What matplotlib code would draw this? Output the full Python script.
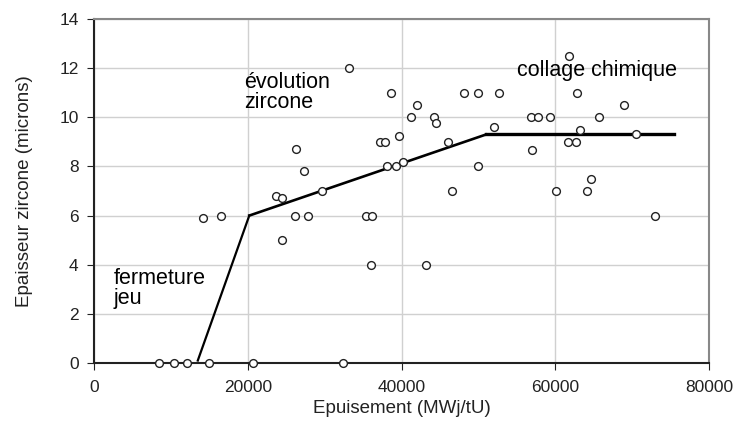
import matplotlib.pyplot as plt

plt.rcParams['font.family'] = ['Liberation Sans', 'DejaVu Sans']

# points mesurés (épuisement MWj/tU, épaisseur zircone en microns)
epuisement = [8450, 10400, 12100, 15000, 20700, 32400,
              14130, 16510, 26180, 27870, 35370, 36110,
              23620, 24450, 29690, 24450, 36020, 43210,
              33160, 38620, 42000, 41220, 39700, 37230, 37880,
              26230, 27350, 38140, 39310, 40180,
              61770, 48150, 50010, 52700, 62890, 68960,
              44250, 44470, 56790, 57740, 59340, 65670,
              51970, 63200, 70440, 46070, 61720, 62760, 57040,
              50010, 46590, 60080, 64190, 64630, 72960]
epaisseur = [0, 0, 0, 0, 0, 0,
             5.9, 6.0, 6.0, 6.0, 6.0, 6.0,
             6.8, 6.7, 7.0, 5.0, 4.0, 4.0,
             12.0, 11.0, 10.5, 10.0, 9.25, 9.0, 9.0,
             8.7, 7.8, 8.0, 8.0, 8.2,
             12.5, 11.0, 11.0, 11.0, 11.0, 10.5,
             10.0, 9.75, 10.0, 10.0, 10.0, 10.0,
             9.6, 9.5, 9.3, 9.0, 9.0, 9.0, 8.65,
             8.0, 7.0, 7.0, 7.0, 7.5, 6.0]

# courbe de tendance
modele_x = [13500, 20200, 51000, 75400]
modele_y = [0.1, 6.0, 9.3, 9.3]

fig = plt.figure(figsize=(7.53, 4.25), dpi=100)
ax = fig.add_axes([94/753, 1-363/425, (709-94)/753, (363-19)/425])

ax.grid(True, color='#d0d0d0', linewidth=1)
ax.set_axisbelow(True)

ax.plot(modele_x[:2], modele_y[:2], color='black', linewidth=1.6, zorder=2)
ax.plot(modele_x[1:3], modele_y[1:3], color='black', linewidth=1.9, zorder=2)
ax.plot(modele_x[2:], modele_y[2:], color='black', linewidth=2.4, zorder=2)
ax.plot(epuisement, epaisseur, linestyle='none', marker='o', markersize=5.6,
        markerfacecolor='white', markeredgecolor='#222222', markeredgewidth=1.0,
        clip_on=False, zorder=3)

ax.set_xlim(0, 80000)
ax.set_ylim(0, 14)
ax.set_xticks(range(0, 80001, 20000))
ax.set_yticks(range(0, 15, 2))
ax.tick_params(direction='out', length=5, labelsize=12.5, colors='#222222')
ax.tick_params(axis='x', pad=7)
ax.tick_params(axis='y', pad=6)

for side in ['top', 'right']:
    ax.spines[side].set_color('#888888')
    ax.spines[side].set_linewidth(1.5)
for side in ['left', 'bottom']:
    ax.spines[side].set_color('#222222')
    ax.spines[side].set_linewidth(1.5)

ax.set_xlabel('Epuisement (MWj/tU)', fontsize=13.5, color='#222222', labelpad=4)
ax.set_ylabel('Epaisseur zircone (microns)', fontsize=13.5, color='#222222', labelpad=19)

# annotations (va='baseline' -> ligne du bas)
ax.text(19500, 10.39, 'évolution\nzircone', fontsize=15.5, va='baseline', ha='left', linespacing=0.95)
ax.text(55000, 11.7, 'collage chimique', fontsize=15.5, va='baseline', ha='left')
ax.text(2600, 2.40, 'fermeture\njeu', fontsize=15.5, va='baseline', ha='left', linespacing=0.95)

fig.savefig('out.png', dpi=100)
